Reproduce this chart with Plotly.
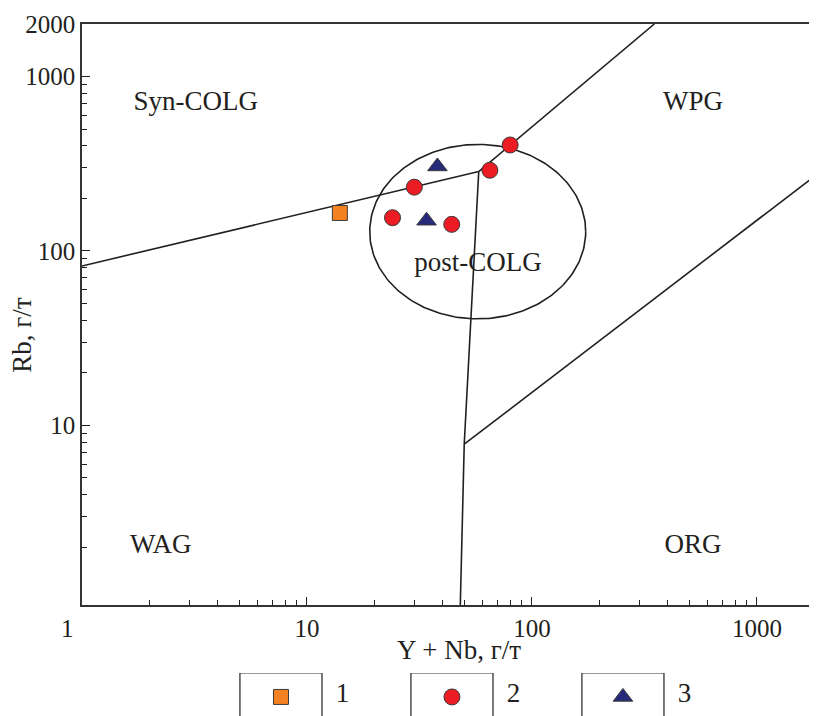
import numpy as np
import plotly.graph_objects as go

# ---- data ----
g1_x = [14]
g1_y = [165]
g2_x = [24, 30, 44, 65, 80]
g2_y = [155, 232, 142, 290, 405]
g3_x = [38, 34]
g3_y = [305, 149]

# discrimination boundaries (Y+Nb, Rb)
b_synwag_x = [1, 58]
b_synwag_y = [82, 285]
b_wpg_x = [58, 350]
b_wpg_y = [285, 2000]
b_vert_x = [58, 50, 48]
b_vert_y = [285, 7.8, 0.9]
b_org_x = [50, 1850]
b_org_y = [7.8, 275]

# post-COLG field (ellipse in log space): centre and half-axes (decades)
post_cx, post_cy = 57.4, 129
post_rx, post_ry = 0.48, 0.50

region_labels = ["Syn-COLG", "WPG", "post-COLG", "WAG", "ORG"]
region_x = [3.2, 520, 57.5, 2.24, 520]
region_y = [700, 700, 84, 2.04, 2.04]

legend_labels = ["1", "2", "3"]

x_major = [10, 100, 1000]
y_major = [10, 100, 1000, 2000]
minor_vals = [m * d for d in (1, 10, 100) for m in range(2, 10)]

ORANGE = "#F58220"
RED = "#EC1C24"
NAVY = "#262A78"
INK = "#231F20"
FONT = "Liberation Serif, Times New Roman, serif"

fig = go.Figure()

line_style = dict(color=INK, width=1.6)
for bx, by in [(b_synwag_x, b_synwag_y), (b_wpg_x, b_wpg_y),
               (b_vert_x, b_vert_y), (b_org_x, b_org_y)]:
    fig.add_trace(go.Scatter(x=bx, y=by, mode="lines", line=line_style,
                             hoverinfo="skip", showlegend=False))

t = np.linspace(0, 2 * np.pi, 241)
ex = 10 ** (np.log10(post_cx) + post_rx * np.cos(t))
ey = 10 ** (np.log10(post_cy) + post_ry * np.sin(t))
fig.add_trace(go.Scatter(x=ex, y=ey, mode="lines", line=line_style,
                         hoverinfo="skip", showlegend=False))

mk_line = dict(color="#3a3a3a", width=1)
fig.add_trace(go.Scatter(x=g1_x, y=g1_y, mode="markers", showlegend=False,
                         marker=dict(symbol="square", size=15, color=ORANGE, line=mk_line)))
fig.add_trace(go.Scatter(x=g2_x, y=g2_y, mode="markers", showlegend=False,
                         marker=dict(symbol="circle", size=16, color=RED, line=mk_line)))
fig.add_trace(go.Scatter(x=g3_x, y=g3_y, mode="markers", showlegend=False,
                         marker=dict(symbol="triangle-up", size=17, color=NAVY, line=mk_line)))

# region labels
fig.add_trace(go.Scatter(x=region_x, y=region_y, mode="text", text=region_labels,
                         textfont=dict(family=FONT, size=27, color=INK),
                         hoverinfo="skip", showlegend=False))

# ---- boxed legend on its own little axes ----
leg_pos = [1, 2, 3]
fig.add_trace(go.Scatter(x=[leg_pos[0]], y=[0.53], xaxis="x2", yaxis="y2", mode="markers",
                         showlegend=False, hoverinfo="skip",
                         marker=dict(symbol="square", size=15, color=ORANGE, line=mk_line)))
fig.add_trace(go.Scatter(x=[leg_pos[1]], y=[0.53], xaxis="x2", yaxis="y2", mode="markers",
                         showlegend=False, hoverinfo="skip",
                         marker=dict(symbol="circle", size=16, color=RED, line=mk_line)))
fig.add_trace(go.Scatter(x=[leg_pos[2]], y=[0.53], xaxis="x2", yaxis="y2", mode="markers",
                         showlegend=False, hoverinfo="skip",
                         marker=dict(symbol="triangle-up", size=17, color=NAVY, line=mk_line)))
fig.add_trace(go.Scatter(x=[p + 0.36 for p in leg_pos], y=[0.56] * 3, xaxis="x2", yaxis="y2",
                         mode="text", text=legend_labels, showlegend=False, hoverinfo="skip",
                         textfont=dict(family=FONT, size=27, color=INK), cliponaxis=False))

shapes = []
for p in leg_pos:
    shapes.append(dict(type="rect", xref="x2", yref="y2", x0=p - 0.24, x1=p + 0.24,
                       y0=-1, y1=1, line=dict(color="#333333", width=1.3)))

tickfont = dict(family=FONT, size=25, color=INK)
title_font = dict(family=FONT, size=27, color=INK)
fig.update_layout(
    width=809, height=716,
    margin=dict(l=74, r=0, t=16, b=0),
    paper_bgcolor="white", plot_bgcolor="white",
    shapes=shapes,
    xaxis=dict(type="log", range=[0, 3.267], domain=[0, 1], anchor="y", automargin=False,
               tickmode="array", tickvals=x_major, ticktext=["10", "100", "1000"],
               ticks="inside", ticklen=8, tickwidth=1.3, tickcolor=INK,
               minor=dict(tickmode="array", tickvals=minor_vals, ticks="inside",
                          ticklen=5, tickwidth=1.1, tickcolor=INK, showgrid=False),
               showgrid=False, zeroline=False, showline=True, linecolor="#333333",
               linewidth=1.6, mirror=True, tickfont=tickfont),
    yaxis=dict(type="log", range=[-0.030, np.log10(2000)], domain=[0.17, 1], anchor="x",
               automargin=False,
               tickmode="array", tickvals=y_major, ticktext=["10", "100", "1000", "2000"],
               ticks="inside", ticklen=8, tickwidth=1.3, tickcolor=INK,
               minor=dict(tickmode="array", tickvals=minor_vals, ticks="inside",
                          ticklen=5, tickwidth=1.1, tickcolor=INK, showgrid=False),
               showgrid=False, zeroline=False, showline=True, linecolor="#333333",
               linewidth=1.6, mirror=False, tickfont=tickfont),
    xaxis2=dict(domain=[0, 1], anchor="y2", range=[-0.1637, 4.135], visible=False),
    yaxis2=dict(domain=[0, 0.0729], anchor="x2", range=[0, 1], visible=False),
    annotations=[
        dict(text="1", xref="paper", yref="paper", x=-0.0204, y=0.17,
             xanchor="center", yanchor="top", yshift=-8, showarrow=False, font=tickfont),
        dict(text="Y + Nb, г/т", xref="paper", yref="paper", x=0.513, y=0.1057,
             xanchor="center", yanchor="middle", showarrow=False, font=title_font),
        dict(text="Rb, г/т", xref="paper", yref="paper", x=-0.0816, y=0.556,
             xanchor="center", yanchor="middle", textangle=-90, showarrow=False,
             font=title_font),
    ],
)

fig.write_html("out.html")
